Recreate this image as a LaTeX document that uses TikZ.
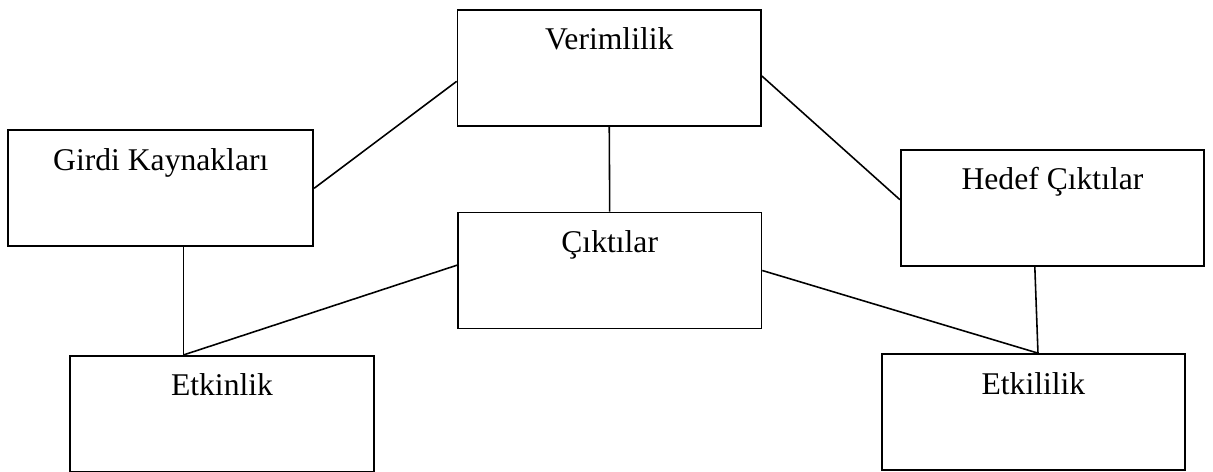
\documentclass[tikz,border=0pt]{standalone}
\usepackage{fontspec}
\setmainfont{Liberation Serif}
\usepackage{tikz}
\usetikzlibrary{calc}

\begin{document}
\begin{tikzpicture}[x=0.02cm, y=-0.02cm, kutu/.style={shape=rectangle, draw, line width=1pt, minimum width=6.07cm, inner sep=0pt, text height=0.8cm, text depth=1.52cm, font=\fontsize{18}{21.6}\selectfont}, bag/.style={line width=0.9pt}]
            \useasboundingbox (0,0) rectangle (1213,472);

            \node (verim) [kutu] at (609.25, 68) {Verimlilik};
            \node (girdi) [kutu, minimum width=6.1cm] at (160.8, 188.3) {Girdi Kaynakları};
            \node (hedef) [kutu] at (1052.5, 207.7) {Hedef Çıktılar};
            \node (cikti) [kutu] at (609.7, 270.5) {Çıktılar};
            \node (etkinlik) [kutu] at (222, 413.8) {Etkinlik};
            \node (etkililik) [kutu] at (1033.4, 412) {Etkililik};

            \coordinate (etkinlikust) at ($(etkinlik.north west)!0.374!(etkinlik.north east)$);
            \coordinate (etkililikust) at ($(etkililik.north west)!0.515!(etkililik.north east)$);
            \coordinate (hedefalt) at ($(hedef.south west)!0.442!(hedef.south east)$);

            \draw[bag] (girdi.east) -- (verim.185.6);
            \draw[bag] (verim.-3.4) -- (hedef.177.1);
            \draw[bag] (verim.south) -- (cikti.north);
            \draw[bag] (girdi.south -| etkinlikust) -- (etkinlikust);
            \draw[bag] (cikti.178.7) -- (etkinlikust);
            \draw[bag] (cikti.east) -- (etkililikust);
            \draw[bag] (hedefalt) -- (etkililikust);
        \end{tikzpicture}
\end{document}
